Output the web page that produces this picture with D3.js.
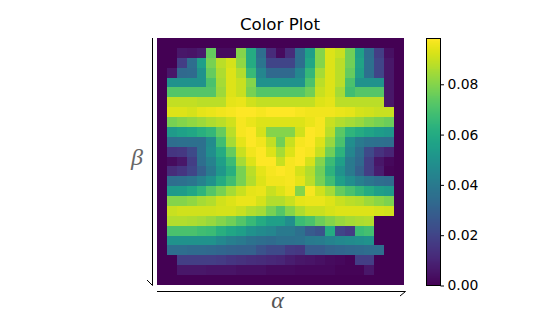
<!DOCTYPE html>
<html><head><meta charset="utf-8">
<script src="https://d3js.org/d3.v7.min.js"></script>
<style>html,body{margin:0;padding:0;background:#fff}svg{display:block}</style>
</head><body><svg id="c" width="555" height="318"></svg>
<script>
const row00=[0,0,0,0,0,0,0,0,0,0,0,0,0,0,0,0,0,0,0,0,0,0,0,0,0];
const row01=[0,0,.006,.005,.007,.075,.003,.003,.08,.06,.035,.012,.003,.012,.035,.055,.08,.093,.09,.077,.055,.035,.018,.004,0];
const row02=[0,0,.018,.035,.055,.078,.088,.092,.082,.06,.038,.02,.02,.02,.035,.058,.08,.093,.088,.077,.057,.036,.02,.006,0];
const row03=[0,.006,.033,.034,.05,.075,.086,.093,.087,.066,.045,.033,.033,.033,.045,.065,.085,.093,.088,.075,.055,.036,.02,.006,0];
const row04=[0,.05,.05,.05,.05,.07,.085,.093,.09,.08,.05,.05,.05,.05,.05,.07,.088,.093,.088,.07,.05,.05,.05,.006,0];
const row05=[0,.072,.072,.072,.072,.072,.084,.093,.09,.078,.072,.072,.072,.072,.072,.077,.09,.093,.085,.068,.072,.072,.072,.006,0];
const row06=[0,.089,.089,.089,.088,.088,.088,.094,.095,.091,.089,.089,.089,.089,.089,.089,.093,.094,.088,.088,.088,.088,.088,.006,0];
const row07=[0,.093,.093,.092,.094,.095,.096,.097,.098,.098,.097,.098,.098,.098,.097,.096,.096,.096,.095,.094,.092,.091,.09,.09,0];
const row08=[0,.078,.08,.082,.084,.086,.088,.091,.097,.095,.093,.093,.093,.093,.093,.095,.097,.09,.087,.085,.083,.08,.078,.076,0];
const row09=[0,.053,.056,.058,.062,.065,.075,.088,.097,.098,.092,.08,.08,.08,.091,.098,.097,.088,.073,.064,.06,.057,.054,.052,0];
const row10=[0,.035,.036,.036,.036,.047,.068,.085,.094,.098,.096,.089,.077,.09,.097,.098,.093,.083,.07,.048,.04,.037,.036,.035,0];
const row11=[0,.015,.016,.022,.036,.048,.06,.075,.09,.096,.098,.093,.085,.093,.098,.097,.09,.077,.063,.045,.035,.022,.014,.01,0];
const row12=[0,.003,.006,.018,.035,.043,.055,.067,.085,.093,.098,.098,.09,.097,.098,.092,.08,.067,.055,.04,.033,.018,.006,.002,0];
const row13=[0,.012,.015,.02,.03,.04,.052,.062,.078,.088,.094,.097,.098,.097,.092,.087,.077,.063,.05,.04,.03,.018,.008,.001,0];
const row14=[0,.035,.036,.038,.043,.05,.06,.068,.078,.087,.093,.096,.096,.097,.094,.088,.078,.068,.055,.048,.042,.038,.035,.034,0];
const row15=[0,.053,.054,.058,.064,.072,.078,.085,.09,.094,.095,.09,.093,.096,.08,.097,.091,.085,.075,.07,.065,.06,.055,.053,0];
const row16=[0,.08,.08,.082,.085,.087,.091,.093,.095,.095,.092,.087,.087,.09,.094,.095,.095,.093,.09,.088,.087,.084,.081,.079,0];
const row17=[0,.09,.091,.091,.091,.091,.092,.092,.09,.087,.085,.078,.072,.08,.086,.09,.09,.092,.093,.093,.093,.093,.092,.091,0];
const row18=[0,.087,.087,.086,.085,.083,.08,.077,.072,.066,.06,.055,.055,.048,.067,.07,.076,.08,.083,.085,.086,.087,0,0,0];
const row19=[0,.07,.07,.07,.068,.067,.062,.058,.055,.05,.047,.045,.04,.04,.036,.028,.025,.06,.02,.017,.067,.069,0,0,0];
const row20=[0,.05,.05,.05,.05,.05,.046,.042,.04,.037,.035,.034,.036,.036,.037,.04,.041,.044,.046,.047,.048,.05,0,0,0];
const row21=[0,.035,.035,.034,.034,.033,.032,.031,.03,.03,.025,.022,.022,.017,.016,.028,.028,.031,.032,.033,.034,.035,.035,0,0];
const row22=[0,0,.018,.018,.018,.018,.017,.015,.014,.013,.012,.011,.01,.008,.006,.005,.004,.003,.002,.001,.018,.018,0,0,0];
const row23=[0,0,.006,.006,.006,.005,.005,.005,.004,.004,.004,.003,.003,.003,.002,.002,.002,.002,.001,.001,.001,.006,0,0,0];
const row24=[0,0,0,0,0,0,0,0,0,0,0,0,0,0,0,0,0,0,0,0,0,0,0,0,0];
const rows=[row00,row01,row02,row03,row04,row05,row06,row07,row08,row09,row10,row11,row12,row13,row14,row15,row16,row17,row18,row19,row20,row21,row22,row23,row24];
const colorTicks=[0,.02,.04,.06,.08];
const colorMax=.0982;
const titleText="Color Plot", xLabel="α", yLabel="β";

const svg=d3.select("#c");
const font="'DejaVu Sans',sans-serif";
const L=157,R=404,T=38,B=285;
const x=d3.scaleBand().domain(d3.range(25)).range([L,R]);
const y=d3.scaleBand().domain(d3.range(25)).range([T,B]);
const color=d3.scaleSequential(d3.interpolateViridis).domain([0,colorMax]);

svg.append("g").attr("shape-rendering","crispEdges").selectAll("g").data(rows).join("g")
  .attr("transform",(d,i)=>`translate(0,${y(i)})`)
  .selectAll("rect").data(d=>d).join("rect")
  .attr("x",(d,i)=>x(i)).attr("width",x.bandwidth())
  .attr("height",y.bandwidth()).attr("fill",d=>color(d));

// spines with open arrow heads
const spine=svg.append("g").attr("fill","none").attr("stroke","#000").attr("stroke-width",1);
spine.append("path").attr("d",`M152.5,${T}V${B+.5}L147,${B-5}`);
spine.append("path").attr("d",`M${L},291.5H${R+1.5}L${R-4},296`);

svg.append("text").attr("x",280).attr("y",30).attr("text-anchor","middle")
  .attr("font-family",font).attr("font-size",16.67).text(titleText);
svg.append("text").attr("x",277.5).attr("y",308).attr("text-anchor","middle")
  .attr("font-family","'Liberation Serif',serif").attr("font-style","italic").attr("font-size",24).attr("fill","#555").text(xLabel);
svg.append("text").attr("x",137).attr("y",165).attr("text-anchor","middle")
  .attr("font-family","'Liberation Serif',serif").attr("font-style","italic").attr("font-size",24).attr("fill","#666").text(yLabel);

// colour bar
const cbL=426,cbW=14;
const cy=d3.scaleLinear().domain([0,colorMax]).range([B,T]);
const steps=d3.range(0,256).map(i=>i/256*colorMax);
svg.append("g").attr("shape-rendering","crispEdges").selectAll("rect").data(steps).join("rect")
  .attr("x",cbL).attr("width",cbW).attr("y",d=>cy(d+colorMax/256)).attr("height",(B-T)/256+.6)
  .attr("fill",d=>color(d));
svg.append("rect").attr("x",cbL+.5).attr("y",T+.5).attr("width",cbW).attr("height",B-T)
  .attr("fill","none").attr("stroke","#000").attr("stroke-width",1);
const ax=svg.append("g").attr("transform",`translate(${cbL+cbW+.5},0.5)`)
  .call(d3.axisRight(cy).tickValues(colorTicks).tickFormat(d3.format(".2f")).tickSize(3.5).tickPadding(3.5));
ax.select(".domain").remove();
ax.selectAll("line").attr("stroke","#000");
ax.selectAll("text").attr("font-family",font).attr("font-size",13.9).attr("fill","#000");
</script></body></html>
